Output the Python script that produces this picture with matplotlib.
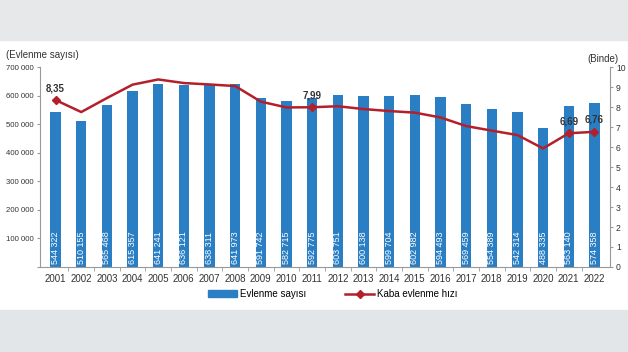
import matplotlib.pyplot as plt
import matplotlib.patches as mpatches
from matplotlib.lines import Line2D

plt.rcParams['font.family'] = ['Liberation Sans', 'DejaVu Sans']

years = [str(y) for y in range(2001, 2023)]
marriages = [544322, 510155, 565468, 615357, 641241, 636121, 638311, 641973,
             591742, 582715, 592775, 603751, 600138, 599704, 602982, 594493,
             569459, 554389, 542314, 488335, 563140, 574358]
rate = [8.35, 7.75, 8.45, 9.12, 9.38, 9.2, 9.13, 9.05, 8.27, 7.98, 7.99,
        8.04, 7.9, 7.8, 7.72, 7.48, 7.05, 6.82, 6.6, 5.93, 6.69, 6.76]
rate_labels = {0: "8,35", 10: "7,99", 20: "6,69", 21: "6,76"}

bar_color = "#2a7ec4"
line_color = "#b3202a"
text_color = "#333333"

fig = plt.figure(figsize=(6.28, 3.52), dpi=100)
fig.patches.append(mpatches.Rectangle((0, 0.885), 1, 0.115, transform=fig.transFigure,
                                      color="#e6e8ea", zorder=0))
fig.patches.append(mpatches.Rectangle((0, 0), 1, 0.12, transform=fig.transFigure,
                                      color="#e3e6e9", zorder=0))

ax = fig.add_axes([0.064, 0.2415, 0.907, 0.568])
x = list(range(len(years)))
ax.bar(x, marriages, width=0.4, color=bar_color, zorder=2)
for i, v in enumerate(marriages):
    ax.text(i, 9000, f"{v:,}".replace(",", " "), rotation=90, color="white",
            ha="center", va="bottom", fontsize=6.5, zorder=3)

ax.set_ylim(0, 700000)
ax.set_xlim(-0.6, len(years) - 0.4)
ax.set_yticks(range(0, 700001, 100000))
ax.set_yticklabels(["" if v == 0 else f"{v:,}".replace(",", " ") for v in range(0, 700001, 100000)])
ax.set_xticks(x)
ax.set_xticklabels(years)
ax.set_xticks([i + 0.5 for i in x[:-1]], minor=True)
ax.tick_params(axis="x", which="major", length=0, labelsize=7, colors=text_color, pad=5)
ax.tick_params(axis="x", which="minor", length=3, color="#999999", direction="out")
ax.tick_params(axis="y", labelsize=5.6, colors=text_color, length=2.5, color="#999999", pad=2)
for s in ["top", "right"]:
    ax.spines[s].set_visible(False)
for s in ["left", "bottom"]:
    ax.spines[s].set_color("#999999")
    ax.spines[s].set_linewidth(0.8)

ax2 = ax.twinx()
ax2.plot(x, rate, color=line_color, lw=1.8, zorder=4)
idx = list(rate_labels.keys())
ax2.plot(idx, [rate[i] for i in idx], "D", color=line_color, ms=4, zorder=5)
for i, lab in rate_labels.items():
    ax2.text(i, rate[i] + 0.35, lab, ha="center", va="bottom", fontsize=7,
             fontweight="bold", color=text_color)
ax2.set_ylim(0, 10)
ax2.set_yticks(range(0, 11))
ax2.tick_params(axis="y", labelsize=6.2, colors=text_color, length=2.5, color="#999999", pad=2)
for s in ["top", "left", "bottom"]:
    ax2.spines[s].set_visible(False)
ax2.spines["right"].set_color("#999999")
ax2.spines["right"].set_linewidth(0.8)

fig.text(0.01, 0.835, "(Evlenme sayısı)", fontsize=7, color=text_color, ha="left")
fig.text(0.985, 0.825, "(Binde)", fontsize=7, color=text_color, ha="right")

handles = [mpatches.Patch(color=bar_color),
           Line2D([0], [0], color=line_color, lw=1.8, marker="D", ms=4)]
fig.legend(handles, ["Evlenme sayısı", "Kaba evlenme hızı"], loc="center",
           bbox_to_anchor=(0.53, 0.165), ncol=2, frameon=False, fontsize=7,
           handlelength=3, columnspacing=4, handletextpad=0.3)

fig.savefig("out.png", dpi=100)
